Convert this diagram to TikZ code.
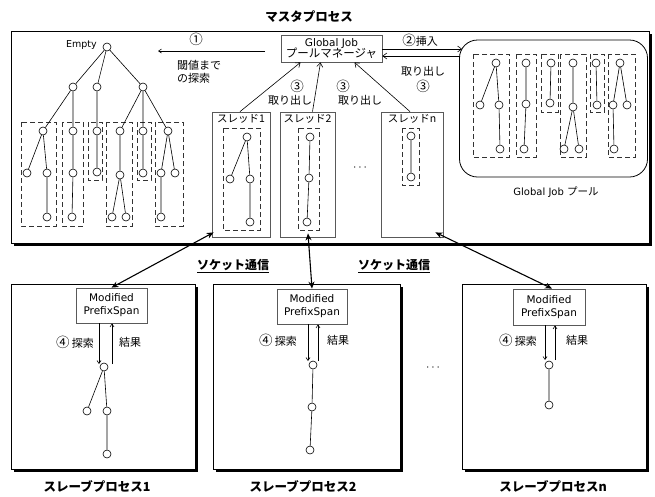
\documentclass[tikz,border=0pt]{standalone}
\usepackage{fontspec}
\setmainfont{DejaVu Sans}
\newfontfamily\cjk{Noto Sans CJK JP}
\usetikzlibrary{arrows.meta}
\newcommand\cnum[1]{{\cjk\fontsize{13.5}{13.5}\selectfont #1}}
\begin{document}
\begin{tikzpicture}[x=1pt,y=-1pt,
  tn/.style={circle,draw,fill=white,inner sep=0pt,minimum size=8pt,line width=0.6pt},
  ed/.style={line width=0.6pt},
  dbox/.style={draw=black!80,line width=0.7pt,dash pattern=on 5pt off 3pt},
  thbox/.style={draw=black!65,line width=0.8pt,inner sep=0pt},
  gbox/.style={draw=black!65,line width=0.8pt,fill=white,inner sep=1pt,align=center,font=\fontsize{10.5}{13}\selectfont},
  jp/.style={font=\cjk\fontsize{11}{12.5}\selectfont,inner sep=0pt},
  jpb/.style={font=\cjk\bfseries\fontsize{12.5}{14}\selectfont,inner sep=0pt},
  thin arrow/.style={line width=0.6pt,-{Straight Barb[length=4pt,width=6pt]}},
  small arrow/.style={line width=0.6pt,-{Straight Barb[length=3pt,width=4pt]}},
  sock/.style={line width=1.1pt,{Stealth[length=7pt,width=6pt]}-{Stealth[length=7pt,width=6pt]}},
  shadowbox/.style={line width=0.8pt,fill=white}
]
\useasboundingbox (0,0) rectangle (655,496);
\fill[white] (0,0) rectangle (655,496);

% ---------- master process ----------
\fill[black] (14,34) rectangle (652,246);
\draw[shadowbox] (11,31) rectangle (649,243);
\node[jpb] (title) at (309,17) {マスタプロセス};

% left search tree: dashed groups
\draw[dbox] (21,122) rectangle (56,226);
\draw[dbox] (62,122) rectangle (83,226);
\draw[dbox] (88,122) rectangle (102,180);
\draw[dbox] (106,122) rectangle (132,226);
\draw[dbox] (137,122) rectangle (151,180);
\draw[dbox] (155,122) rectangle (183,226);

\node[tn] (E) at (107,47) {};
\node[inner sep=0pt,anchor=east,font=\fontsize{9.5}{12}\selectfont] (empty) at (97,45) {Empty};
\node[tn] (a1) at (73,87) {};
\node[tn] (a2) at (97,87) {};
\node[tn] (a3) at (143,87) {};
\node[tn] (b1) at (43,131) {};
\node[tn] (b2) at (73,131) {};
\node[tn] (b3) at (97,131) {};
\node[tn] (b4) at (120,131) {};
\node[tn] (b5) at (143,131) {};
\node[tn] (b6) at (168,131) {};
\node[tn] (c1) at (27,173) {};
\node[tn] (c2) at (47,173) {};
\node[tn] (c3) at (73,173) {};
\node[tn] (c4) at (97,172) {};
\node[tn] (c5) at (120,175) {};
\node[tn] (c6) at (143,173) {};
\node[tn] (c7) at (161,173) {};
\node[tn] (c8) at (175,173) {};
\node[tn] (d1) at (47,217) {};
\node[tn] (d2) at (72,217) {};
\node[tn] (d3) at (112,217) {};
\node[tn] (d4) at (126,217) {};
\node[tn] (d5) at (161,217) {};
\draw[ed] (E)--(a1) (E)--(a2) (E)--(a3)
  (a1)--(b1) (a1)--(b2) (a2)--(b3) (a3)--(b4) (a3)--(b5) (a3)--(b6)
  (b1)--(c1) (b1)--(c2) (c2)--(d1) (b2)--(c3) (c3)--(d2) (b3)--(c4)
  (b4)--(c5) (c5)--(d3) (c5)--(d4) (b5)--(c6) (b6)--(c7) (b6)--(c8) (c7)--(d5);

% arrow 1
\coordinate (r1s) at (265,51);
\coordinate (r1e) at (158,51);
\draw[small arrow] (r1s) -- (r1e);
\node[jp] (n1) at (196,39) {\cnum{①}};
\node[jp,anchor=west,align=left] (n1t) at (177,72) {閾値まで\\の探索};

% manager
\node[gbox,minimum width=101pt,minimum height=27pt] (mgr) at (331.5,48.5)
  {Global Job\\[-1.5pt]{\cjk\fontsize{11.5}{12}\selectfont プールマネージャ}};

% pool
\node[draw,line width=0.8pt,rounded corners=18pt,minimum width=188pt,minimum height=137pt,inner sep=0pt] (P) at (553.5,108.5) {};
\node[inner sep=0pt,font=\fontsize{10}{12}\selectfont] (Plab) at (556,192) {Global Job {\cjk\fontsize{10.5}{12}\selectfont プール}};
\draw[dbox] (473,54) rectangle (509,157);
\draw[dbox] (516,54) rectangle (536,157);
\draw[dbox] (541,54) rectangle (558,112);
\draw[dbox] (560,54) rectangle (586,157);
\draw[dbox] (590,54) rectangle (604,112);
\draw[dbox] (608,54) rectangle (635,157);
\node[tn] (pa1) at (496,63) {};
\node[tn] (pa2) at (480,105) {};
\node[tn] (pa3) at (499,105) {};
\node[tn] (pa4) at (500,149) {};
\node[tn] (pb1) at (526,63) {};
\node[tn] (pb2) at (526,104) {};
\node[tn] (pb3) at (524,149) {};
\node[tn] (pc1) at (551,63) {};
\node[tn] (pc2) at (550,103) {};
\node[tn] (pd1) at (573,63) {};
\node[tn] (pd2) at (573,107) {};
\node[tn] (pd3) at (564,149) {};
\node[tn] (pd4) at (579,149) {};
\node[tn] (pe1) at (596,63) {};
\node[tn] (pe2) at (597,105) {};
\node[tn] (pf1) at (620,63) {};
\node[tn] (pf2) at (613,105) {};
\node[tn] (pf3) at (627,105) {};
\node[tn] (pf4) at (614,149) {};
\draw[ed] (pa1)--(pa2) (pa1)--(pa3) (pa3)--(pa4)
  (pb1)--(pb2) (pb2)--(pb3) (pc1)--(pc2)
  (pd1)--(pd2) (pd2)--(pd3) (pd2)--(pd4) (pe1)--(pe2)
  (pf1)--(pf2) (pf1)--(pf3) (pf2)--(pf4);

% arrows 2 and 3 between manager and pool
\coordinate (p2) at (462,49);
\coordinate (p3) at (460,56);
\draw[thin arrow] (mgr.east |- p2) -- (p2);
\draw[thin arrow] (p3) -- (mgr.east |- p3);
\node[jp] (n2) at (420,40) {\cnum{②}挿入};
\node[jp] (n3a) at (423,71) {取り出し};
\node[jp] (n3b) at (423,86) {\cnum{③}};

% threads
\node[thbox,minimum width=58pt,minimum height=125pt] (T1) at (241,174.5) {};
\node[thbox,minimum width=55pt,minimum height=125pt] (T2) at (307.5,174.5) {};
\node[thbox,minimum width=62pt,minimum height=125pt] (Tn) at (412,174.5) {};
\node[jp,font=\cjk\fontsize{10.5}{12}\selectfont] (T1l) at (241,119) {スレッド1};
\node[jp,font=\cjk\fontsize{10.5}{12}\selectfont] (T2l) at (307.5,119) {スレッド2};
\node[jp,font=\cjk\fontsize{10.5}{12}\selectfont] (Tnl) at (412,119) {スレッドn};
\draw[dbox] (223,128) rectangle (260,230);
\draw[dbox] (298,128) rectangle (319,230);
\draw[dbox] (402,128) rectangle (419,185);
\node[tn] (t1a) at (247,137) {};
\node[tn] (t1b) at (230,179) {};
\node[tn] (t1c) at (250,179) {};
\node[tn] (t1d) at (250,222) {};
\node[tn] (t2a) at (310,137) {};
\node[tn] (t2b) at (309,178) {};
\node[tn] (t2c) at (307,222) {};
\node[tn] (tna) at (411,136) {};
\node[tn] (tnb) at (411,177) {};
\draw[ed] (t1a)--(t1b) (t1a)--(t1c) (t1c)--(t1d) (t2a)--(t2b) (t2b)--(t2c) (tna)--(tnb);
\node[inner sep=0pt,font=\fontsize{12}{12}\selectfont] (dots1) at (360,168) {$\cdots$};

% arrows 3 from threads
\draw[thin arrow] ([xshift=-1pt]T1.north) -- ([xshift=-31pt]mgr.south);
\draw[thin arrow] ([xshift=5pt]T2.north) -- ([xshift=-11pt]mgr.south);
\draw[thin arrow] ([xshift=-2pt]Tn.north) -- ([xshift=23pt]mgr.south);
\node[jp] (n3c) at (297,86) {\cnum{③}};
\node[jp] (n3d) at (290,100) {取り出し};
\node[jp] (n3e) at (343,86) {\cnum{③}};
\node[jp] (n3f) at (360,100) {取り出し};

% ---------- slave processes ----------
\fill[black] (14,287) rectangle (198,472);
\draw[shadowbox] (11,284) rectangle (195,469);
\fill[black] (216,287) rectangle (403,472);
\draw[shadowbox] (213,284) rectangle (400,469);
\fill[black] (465,287) rectangle (649,472);
\draw[shadowbox] (462,284) rectangle (646,469);

\node[gbox,minimum width=71pt,minimum height=35pt] (M1) at (111.5,305.5) {Modified\\PrefixSpan};
\node[gbox,minimum width=70pt,minimum height=35pt] (M2) at (312,306.5) {Modified\\PrefixSpan};
\node[gbox,minimum width=72pt,minimum height=36pt] (Mn) at (549,307) {Modified\\PrefixSpan};

% slave trees
\node[tn] (s1a) at (104,367) {};
\node[tn] (s1b) at (87,411) {};
\node[tn] (s1c) at (107,411) {};
\node[tn] (s1d) at (107,454) {};
\node[tn] (s2a) at (313,365) {};
\node[tn] (s2b) at (312,407) {};
\node[tn] (s2c) at (310,450) {};
\node[tn] (sna) at (549,365) {};
\node[tn] (snb) at (549,405) {};
\draw[ed] (s1a)--(s1b) (s1a)--(s1c) (s1c)--(s1d) (s2a)--(s2b) (s2b)--(s2c) (sna)--(snb);

% 4 arrows
\coordinate (k1d) at (99,364);
\coordinate (k1u) at (112,364);
\coordinate (k2d) at (308,361);
\coordinate (k2u) at (318,361);
\coordinate (knd) at (545,360);
\coordinate (knu) at (555,360);
\draw[small arrow] (M1.south -| k1d) -- (k1d);
\draw[small arrow] (k1u) -- (M1.south -| k1u);
\draw[small arrow] (M2.south -| k2d) -- (k2d);
\draw[small arrow] (k2u) -- (M2.south -| k2u);
\draw[small arrow] (Mn.south -| knd) -- (knd);
\draw[small arrow] (knu) -- (Mn.south -| knu);
\node[jp] (s1t) at (75,342) {\cnum{④} 探索};
\node[jp] (s1r) at (130,342) {結果};
\node[jp] (s2t) at (278,340) {\cnum{④} 探索};
\node[jp] (s2r) at (338,340) {結果};
\node[jp] (snt) at (518,340) {\cnum{④} 探索};
\node[jp] (snr) at (577,340) {結果};
\node[inner sep=0pt,font=\fontsize{12}{12}\selectfont] (dots2) at (433,368) {$\cdots$};

% slave labels
\node[jpb] (S1l) at (97,486) {スレーブプロセス1};
\node[jpb] (S2l) at (303,486) {スレーブプロセス2};
\node[jpb] (Snl) at (553,486) {スレーブプロセスn};

% socket communication
\draw[sock] (M1.north) -- ([shift={(2,-5)}]T1.south west);
\draw[sock] (M2.north) -- ([xshift=0.5pt,yshift=4pt]T2.south);
\draw[sock] ([xshift=3pt]Mn.north) -- ([shift={(-8,-5)}]Tn.south east);
\node[jpb,font=\cjk\bfseries\fontsize{12}{14}\selectfont] (sk1) at (233,266) {\underline{ソケット通信}};
\node[jpb,font=\cjk\bfseries\fontsize{12}{14}\selectfont] (sk2) at (394,266) {\underline{ソケット通信}};
\end{tikzpicture}
\end{document}
